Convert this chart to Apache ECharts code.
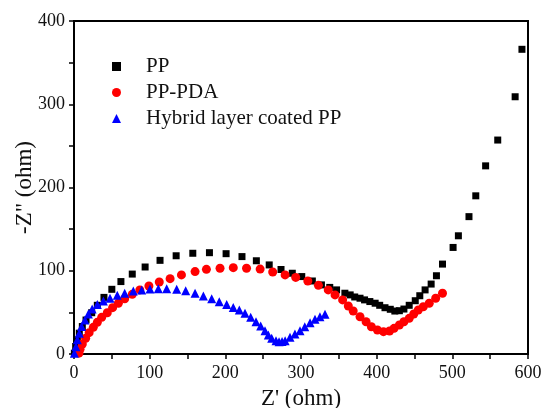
<!DOCTYPE html>
<html>
<head>
<meta charset="utf-8">
<script src="https://cdn.jsdelivr.net/npm/echarts@6/dist/echarts.min.js"></script>
<style>
  html, body { margin: 0; padding: 0; background: #fff; }
  #chart { width: 543px; height: 408px; }
</style>
</head>
<body>
<div id="chart"></div>
<script>
var ppX = [0.5, 2.2, 4.4, 7, 11, 15.9, 23.4, 30.8, 39.6, 50, 62, 77, 94, 113.7, 135, 157, 179, 201, 222, 241, 258, 273.6, 288.5, 301, 315, 327, 338, 347, 358, 365, 371, 378, 384, 391, 398, 404, 411, 418, 424, 430, 436, 443, 451, 457, 464, 472, 479, 487, 501, 508, 522, 531, 544, 560, 583, 592];
var ppY = [1, 9, 17, 25, 33, 40.8, 49.6, 58.5, 68, 77.7, 87, 96, 104.5, 112.5, 118, 121, 121.7, 120.5, 117, 112, 107, 101.5, 97, 93, 87.7, 83, 80, 77, 73, 71, 68.5, 67, 65, 63, 61, 58.5, 55.6, 53.7, 51.6, 52, 54, 58.5, 64, 70, 77, 84, 94, 108, 128, 142, 165, 190, 226, 257, 309, 366];

var pdaX = [6.5, 8, 11, 15.4, 20, 25.5, 30.8, 36.6, 44, 51, 58.6, 67, 77, 87, 99, 112.7, 127, 142, 160, 175, 193, 210.5, 228, 246, 262.6, 279, 293, 309, 323, 336, 345, 355, 362.5, 369, 378, 386, 393, 401, 409, 417, 423, 430, 436, 443, 449, 455, 461.6, 469.5, 478, 487];
var pdaY = [1, 5.6, 12, 18.8, 25.6, 32, 38, 44, 49.6, 55.7, 61, 66.4, 71.7, 77, 81.7, 86.5, 90.5, 95, 99, 101.7, 103, 103.7, 103, 102, 98.5, 95, 92, 87.7, 82.5, 77, 71, 65, 57.6, 51.6, 44.8, 38.8, 32.8, 28.8, 26.8, 27.6, 30.8, 34.8, 38.8, 42.8, 48, 52.8, 56.8, 61, 67, 73];

var hybX = [0.5, 2.6, 4.4, 7, 10, 14.5, 19, 24, 30.8, 38.8, 47.6, 57.2, 67, 78.4, 89.5, 100.4, 111.4, 122.5, 135.7, 147.6, 160, 171, 182, 192, 201.8, 210.5, 218.5, 226, 233.5, 240.5, 246.7, 252.4, 256.8, 261.3, 267, 271, 275, 279, 285.5, 292, 298.7, 305, 312, 318.5, 325, 331.7];
var hybY = [1, 8.8, 17, 25, 33, 40.8, 48, 54, 59.6, 63.7, 67, 70.5, 72.9, 75.7, 76.9, 78, 78.5, 78.5, 77.7, 76, 72.9, 69.7, 66.4, 62.8, 59.6, 56, 52.8, 48.8, 44, 38.8, 33.6, 28, 22.8, 18.8, 16, 14.8, 15, 16, 20, 24, 28, 32.8, 37.6, 41.7, 44.8, 47.7];

var seriesNames = ['PP', 'PP-PDA', 'Hybrid layer coated PP'];

function zip(xs, ys) {
    return xs.map(function (x, i) { return [x, ys[i]]; });
}

var font = 'Liberation Serif, Times New Roman, serif';

var option = {
    animation: false,
    backgroundColor: '#fff',
    textStyle: { fontFamily: font },
    grid: {
        left: 74, right: 15, top: 21, bottom: 54,
        containLabel: false, outerBoundsMode: 'none',
        show: true, borderColor: '#000', borderWidth: 2
    },
    legend: {
        orient: 'vertical',
        left: 107, top: 51,
        itemWidth: 9, itemHeight: 9,
        itemGap: 5,
        textStyle: { fontFamily: font, fontSize: 21, color: '#111', padding: [0, 0, 0, 20] },
        data: [
            { name: seriesNames[0], icon: 'rect' },
            { name: seriesNames[1], icon: 'circle' },
            { name: seriesNames[2], icon: 'triangle' }
        ]
    },
    xAxis: {
        type: 'value', min: 0, max: 600, interval: 100,
        name: "Z' (ohm)", nameLocation: 'middle', nameGap: 33, nameMoveOverlap: false,
        nameTextStyle: { fontFamily: font, fontSize: 23, color: '#111' },
        axisLine: { show: true, lineStyle: { color: '#000', width: 2 } },
        axisTick: { show: true, length: 5, lineStyle: { color: '#000', width: 1.5 } },
        minorTick: { show: true, splitNumber: 2, length: 5, lineStyle: { color: '#000', width: 1.5 } },
        axisLabel: { fontFamily: font, fontSize: 18, color: '#111', margin: 10 },
        splitLine: { show: false }
    },
    yAxis: {
        type: 'value', min: 0, max: 400, interval: 100,
        name: '-Z" (ohm)', nameLocation: 'middle', nameGap: 38, nameMoveOverlap: false,
        nameTextStyle: { fontFamily: font, fontSize: 23, color: '#111' },
        axisLine: { show: true, lineStyle: { color: '#000', width: 2 } },
        axisTick: { show: true, length: 5, lineStyle: { color: '#000', width: 1.5 } },
        minorTick: { show: true, splitNumber: 2, length: 5, lineStyle: { color: '#000', width: 1.5 } },
        axisLabel: { fontFamily: font, fontSize: 18, color: '#111', margin: 9 },
        splitLine: { show: false }
    },
    series: [
        {
            name: seriesNames[0], type: 'scatter', symbol: 'rect', symbolSize: 7,
            itemStyle: { color: '#000', opacity: 1 }, data: zip(ppX, ppY)
        },
        {
            name: seriesNames[1], type: 'scatter', symbol: 'circle', symbolSize: 9,
            itemStyle: { color: '#f00', opacity: 1 }, data: zip(pdaX, pdaY)
        },
        {
            name: seriesNames[2], type: 'scatter', symbol: 'triangle', symbolSize: 9,
            itemStyle: { color: '#00f', opacity: 1 }, data: zip(hybX, hybY)
        }
    ]
};

var myChart = echarts.init(document.getElementById('chart'));
myChart.setOption(option);
</script>
</body>
</html>
